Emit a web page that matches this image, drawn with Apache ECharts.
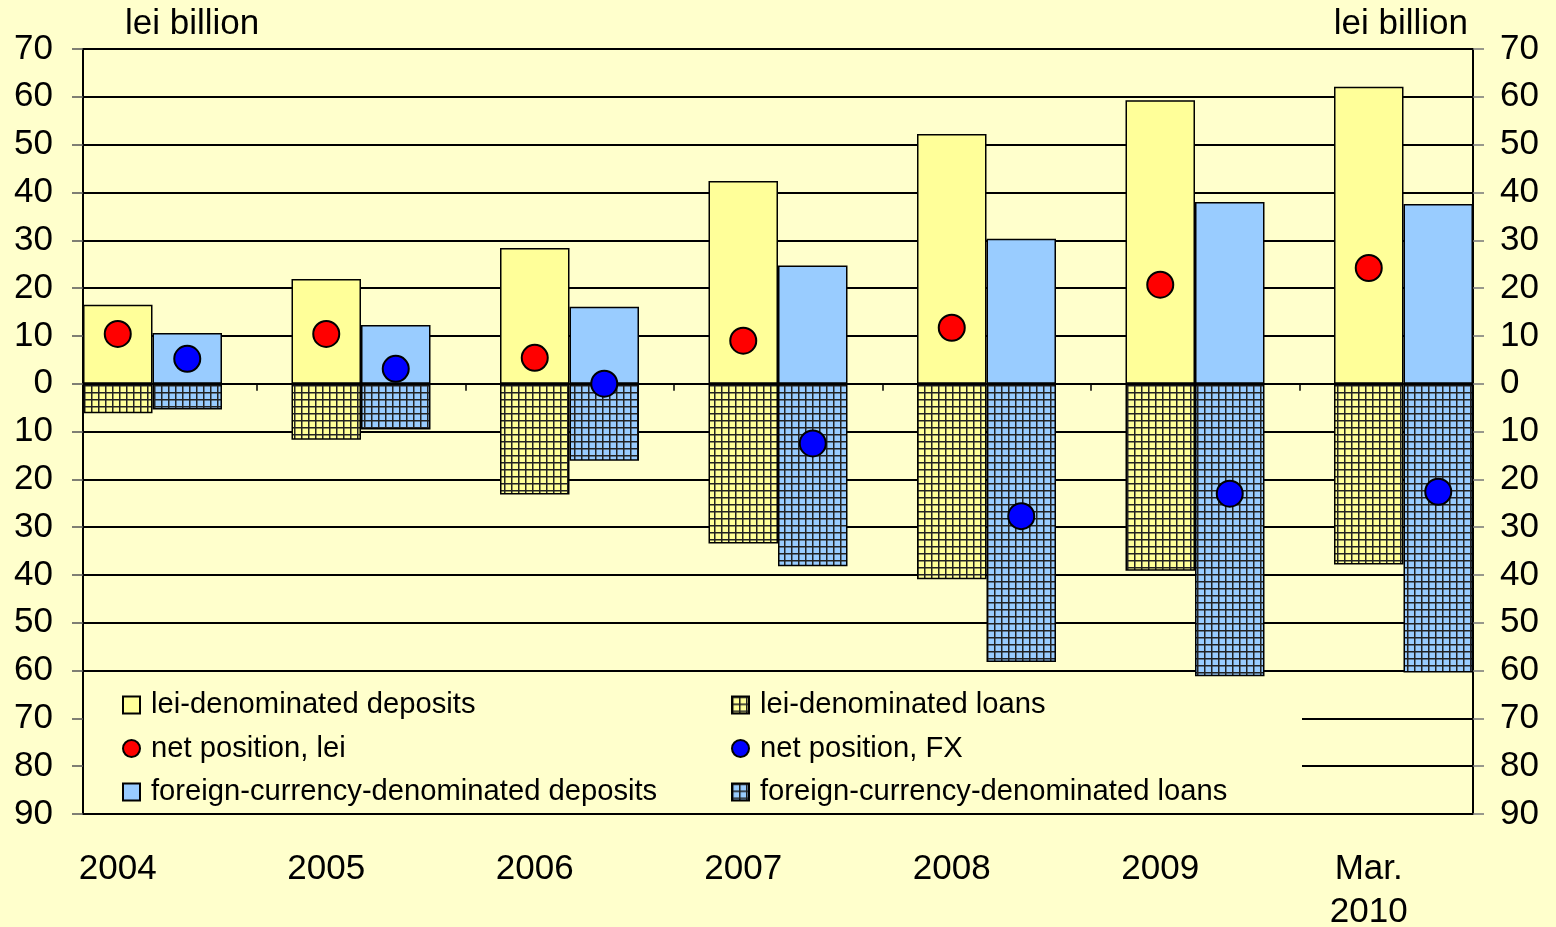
<!DOCTYPE html>
<html>
<head>
<meta charset="utf-8">
<script src="https://cdn.jsdelivr.net/npm/echarts@6/dist/echarts.min.js"></script>
<style>
  html, body { margin: 0; padding: 0; background: #FFFFCC; }
  #chart { width: 1556px; height: 927px; }
</style>
</head>
<body>
<div id="chart"></div>
<script>
// ---- data (lei billion) ----
var years = ['2004', '2005', '2006', '2007', '2008', '2009', 'Mar.\n2010'];
var leiDeposits = [16.5, 21.9, 28.4, 42.4, 52.2, 59.3, 62.1];
var leiLoans = [-6.2, -11.7, -23.2, -33.4, -40.9, -39.1, -37.8];
var fxDeposits = [10.6, 12.3, 16.1, 24.7, 30.3, 38.0, 37.6];
var fxLoans = [-5.4, -9.6, -16.1, -38.2, -58.2, -61.2, -60.4];
var netLei = [10.4, 10.4, 5.4, 9.0, 11.7, 20.7, 24.2];
var netFX = [5.2, 3.1, 0.0, -12.5, -27.7, -23.0, -22.6];

var names = {
  leiDep: 'lei-denominated deposits',
  leiLoan: 'lei-denominated loans',
  netLei: 'net position, lei',
  netFX: 'net position, FX',
  fxDep: 'foreign-currency-denominated deposits',
  fxLoan: 'foreign-currency-denominated loans'
};

// Each year occupies three slots: lei bar, FX bar, empty gap.
var slots = [];
years.forEach(function (y, i) {
  slots.push(y, '_b' + i, '_g' + i);
});
slots.pop(); // chart ends right after the last FX bar
function toSlots(arr, offset) {
  var out = slots.map(function () { return '-'; });
  arr.forEach(function (v, i) { out[i * 3 + offset] = v; });
  return out;
}

function hatch(fill) {
  var c = document.createElement('canvas');
  c.width = 7; c.height = 7;
  var ctx = c.getContext('2d');
  ctx.fillStyle = fill;
  ctx.fillRect(0, 0, 7, 7);
  ctx.fillStyle = '#222';
  ctx.fillRect(0, 0, 7, 1.5);
  ctx.fillRect(0, 0, 1.5, 7);
  return { image: c, repeat: 'repeat' };
}

var FONT = '"Liberation Sans", Arial, sans-serif';
var YELLOW = '#FFFF99', BLUE = '#99CCFF';
var AX = 35;

var chart = echarts.init(document.getElementById('chart'));
var barStyle = function (color) {
  return { color: color, borderColor: '#000', borderWidth: 1.5 };
};

chart.setOption({
  backgroundColor: '#FFFFCC',
  animation: false,
  textStyle: { fontFamily: FONT },
  title: [
    { text: 'lei billion', left: 125, top: 7, padding: 0,
      textStyle: { fontFamily: FONT, fontSize: AX, fontWeight: 'normal', color: '#000' } },
    { text: 'lei billion', right: 88, top: 7, padding: 0,
      textStyle: { fontFamily: FONT, fontSize: AX, fontWeight: 'normal', color: '#000' } }
  ],
  grid: { left: 83, right: 83, top: 49, bottom: 113, containLabel: false, outerBoundsMode: 'none' },
  xAxis: [
    {
      type: 'category', data: slots, gridIndex: 0, position: 'bottom',
      axisLine: { onZero: true, lineStyle: { color: '#000', width: 2 } },
      axisTick: { show: true, alignWithLabel: true, interval: 0, length: 7, lineStyle: { color: '#000', width: 1.5 } },
      axisLabel: { show: false },
      splitLine: { show: false }
    },
    {
      type: 'category', data: slots, gridIndex: 0, position: 'bottom',
      axisLine: { show: false, onZero: false },
      axisTick: { show: false },
      splitLine: { show: false },
      axisLabel: {
        interval: function (idx) { return idx % 3 === 0; },
        margin: 34, fontSize: AX, lineHeight: 43, color: '#000', fontFamily: FONT,
        formatter: function (v) { return v.charAt(0) === '_' ? '' : v; }
      }
    }
  ],
  yAxis: [
    {
      type: 'value', min: -90, max: 70, interval: 10, position: 'left',
      axisLine: { show: true, lineStyle: { color: '#000', width: 2 } },
      axisTick: { show: true, length: 11, lineStyle: { color: '#555', width: 1.5 } },
      axisLabel: { margin: 30, fontSize: AX, color: '#000', fontFamily: FONT,
        formatter: function (v) { return String(Math.abs(v)); } },
      splitLine: { show: true, lineStyle: { color: '#000', width: 2 } }
    },
    {
      type: 'value', min: -90, max: 70, interval: 10, position: 'right',
      axisLine: { show: true, lineStyle: { color: '#000', width: 2 } },
      axisTick: { show: true, length: 11, lineStyle: { color: '#777', width: 1.5 } },
      axisLabel: { margin: 27, fontSize: AX, color: '#000', fontFamily: FONT,
        formatter: function (v) { return String(Math.abs(v)); } },
      splitLine: { show: false }
    }
  ],
  graphic: [
    { type: 'rect', z: 1, shape: { x: 84, y: 673.5, width: 1218, height: 139 },
      style: { fill: '#FFFFCC', lineWidth: 0 } }
  ],
  legend: [
    {
      orient: 'vertical', left: 122, top: 690, padding: 0, z: 10,
      itemWidth: 17, itemHeight: 17, itemGap: 13.5,
      textStyle: { fontSize: 29.2, lineHeight: 30, color: '#000', fontFamily: FONT, padding: [0, 0, 0, 6] },
      data: [
        { name: names.leiDep, icon: 'rect' },
        { name: names.netLei, icon: 'circle' },
        { name: names.fxDep, icon: 'rect' }
      ]
    },
    {
      orient: 'vertical', left: 731, top: 690, padding: 0, z: 10,
      itemWidth: 17, itemHeight: 17, itemGap: 13.5,
      textStyle: { fontSize: 29.2, lineHeight: 30, color: '#000', fontFamily: FONT, padding: [0, 0, 0, 6] },
      data: [
        { name: names.leiLoan, icon: 'rect' },
        { name: names.netFX, icon: 'circle' },
        { name: names.fxLoan, icon: 'rect' }
      ]
    }
  ],
  series: [
    { name: names.leiDep, type: 'bar', stack: 'all', barCategoryGap: '0%', barGap: '0%',
      data: toSlots(leiDeposits, 0), itemStyle: barStyle(YELLOW), z: 3 },
    { name: names.leiLoan, type: 'bar', stack: 'all', barCategoryGap: '0%', barGap: '0%',
      data: toSlots(leiLoans, 0), itemStyle: barStyle(hatch(YELLOW)), z: 3 },
    { name: names.fxDep, type: 'bar', stack: 'all', barCategoryGap: '0%', barGap: '0%',
      data: toSlots(fxDeposits, 1), itemStyle: barStyle(BLUE), z: 3 },
    { name: names.fxLoan, type: 'bar', stack: 'all', barCategoryGap: '0%', barGap: '0%',
      data: toSlots(fxLoans, 1), itemStyle: barStyle(hatch(BLUE)), z: 3 },
    { name: names.netLei, type: 'scatter', data: toSlots(netLei, 0), symbol: 'circle', symbolSize: 26,
      itemStyle: { color: '#FF0000', borderColor: '#000', borderWidth: 2, opacity: 1 }, z: 5 },
    { name: names.netFX, type: 'scatter', data: toSlots(netFX, 1), symbol: 'circle', symbolSize: 26,
      itemStyle: { color: '#0000FF', borderColor: '#000', borderWidth: 2, opacity: 1 }, z: 5 }
  ]
});
</script>
</body>
</html>
